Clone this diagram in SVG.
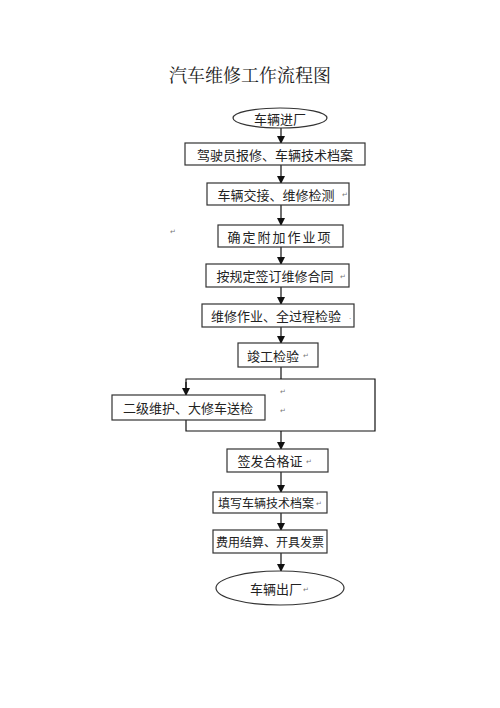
<svg xmlns="http://www.w3.org/2000/svg" width="500" height="708" viewBox="0 0 500 708">
<defs>
<marker id="ah" markerWidth="8" markerHeight="8" refX="7" refY="4" orient="auto" markerUnits="userSpaceOnUse">
<path d="M0,0 L8,4 L0,8 Z" fill="#111"/>
</marker>
<style>
.box{fill:#fff;stroke:#333;stroke-width:1.2}
.t{font-family:"Noto Sans CJK SC","Noto Sans",sans-serif;font-size:13px;fill:#222;text-anchor:middle;dominant-baseline:central}
.s{font-size:12px}
.title{font-family:"Noto Serif CJK SC","Noto Sans CJK SC",serif;font-size:18px;fill:#222;text-anchor:middle}
.ln{stroke:#111;stroke-width:1.2;fill:none}
.pm{font-family:"DejaVu Sans",sans-serif;font-size:7px;fill:#777}
</style>
</defs>
<rect width="500" height="708" fill="#fff"/>
<text class="title" x="250" y="82">汽车维修工作流程图</text>
<g id="connectors">
<line class="ln" x1="281" y1="128" x2="281" y2="143" marker-end="url(#ah)"/>
<line class="ln" x1="281" y1="165" x2="281" y2="183" marker-end="url(#ah)"/>
<line class="ln" x1="281" y1="205" x2="281" y2="225" marker-end="url(#ah)"/>
<line class="ln" x1="281" y1="247" x2="281" y2="264" marker-end="url(#ah)"/>
<line class="ln" x1="281" y1="287" x2="281" y2="304" marker-end="url(#ah)"/>
<line class="ln" x1="281" y1="327" x2="281" y2="343" marker-end="url(#ah)"/>
<line class="ln" x1="281" y1="367" x2="281" y2="379"/>
<polyline class="ln" points="186,395 186,379 375,379 375,431 186,431 186,420"/>
<line class="ln" x1="186" y1="382" x2="186" y2="395" marker-end="url(#ah)"/>
<line class="ln" x1="281" y1="431" x2="281" y2="449" marker-end="url(#ah)"/>
<line class="ln" x1="281" y1="472" x2="281" y2="492" marker-end="url(#ah)"/>
<line class="ln" x1="281" y1="513" x2="281" y2="530" marker-end="url(#ah)"/>
<line class="ln" x1="281" y1="553" x2="281" y2="571" marker-end="url(#ah)"/>
</g>
<g id="n_start"><ellipse class="box" cx="280" cy="118" rx="47" ry="10"/><text class="t" x="280" y="118">车辆进厂</text></g>
<g id="n1"><rect class="box" x="185" y="143" width="180" height="22"/><text class="t" x="275" y="154">驾驶员报修、车辆技术档案</text></g>
<g id="n2"><rect class="box" x="207" y="183" width="142" height="22"/><text class="t" x="276" y="194">车辆交接、维修检测</text><text class="pm" x="342" y="197">↵</text></g>
<g id="n3"><rect class="box" x="218" y="225" width="125" height="22"/><text class="t" x="280" y="236" letter-spacing="2">确定附加作业项</text></g>
<g id="n4"><rect class="box" x="206" y="264" width="143" height="23"/><text class="t" x="275" y="275.5">按规定签订维修合同</text><text class="pm" x="340" y="279">↵</text></g>
<g id="n5"><rect class="box" x="202" y="304" width="152" height="23"/><text class="t" x="276" y="315.5">维修作业、全过程检验</text><text class="pm" x="349" y="319">.</text></g>
<g id="n6"><rect class="box" x="238" y="343" width="80" height="24"/><text class="t" x="273" y="355">竣工检验</text><text class="pm" x="303" y="358">↵</text></g>
<g id="n7"><rect class="box" x="112" y="395" width="153" height="25"/><text class="t" x="188" y="407.5">二级维护、大修车送检</text></g>
<g id="n8"><rect class="box" x="227" y="449" width="101" height="23"/><text class="t" x="270" y="460.5">签发合格证</text><text class="pm" x="306" y="464">↵</text></g>
<g id="n9"><rect class="box" x="213" y="492" width="114" height="21"/><text class="t s" x="266" y="502.5">填写车辆技术档案</text><text class="pm" x="316" y="506">↵</text></g>
<g id="n10"><rect class="box" x="213" y="530" width="114" height="23"/><text class="t s" x="270" y="541.5">费用结算、开具发票</text></g>
<g id="n_end"><ellipse class="box" cx="280" cy="588" rx="64" ry="17"/><text class="t" x="276" y="588">车辆出厂</text><text class="pm" x="303" y="592">↵</text></g>
<g id="marks">
<text class="pm" x="170" y="234">↵</text>
<text class="pm" x="280" y="394">↵</text>
<text class="pm" x="280" y="413">↵</text>
</g>
</svg>
